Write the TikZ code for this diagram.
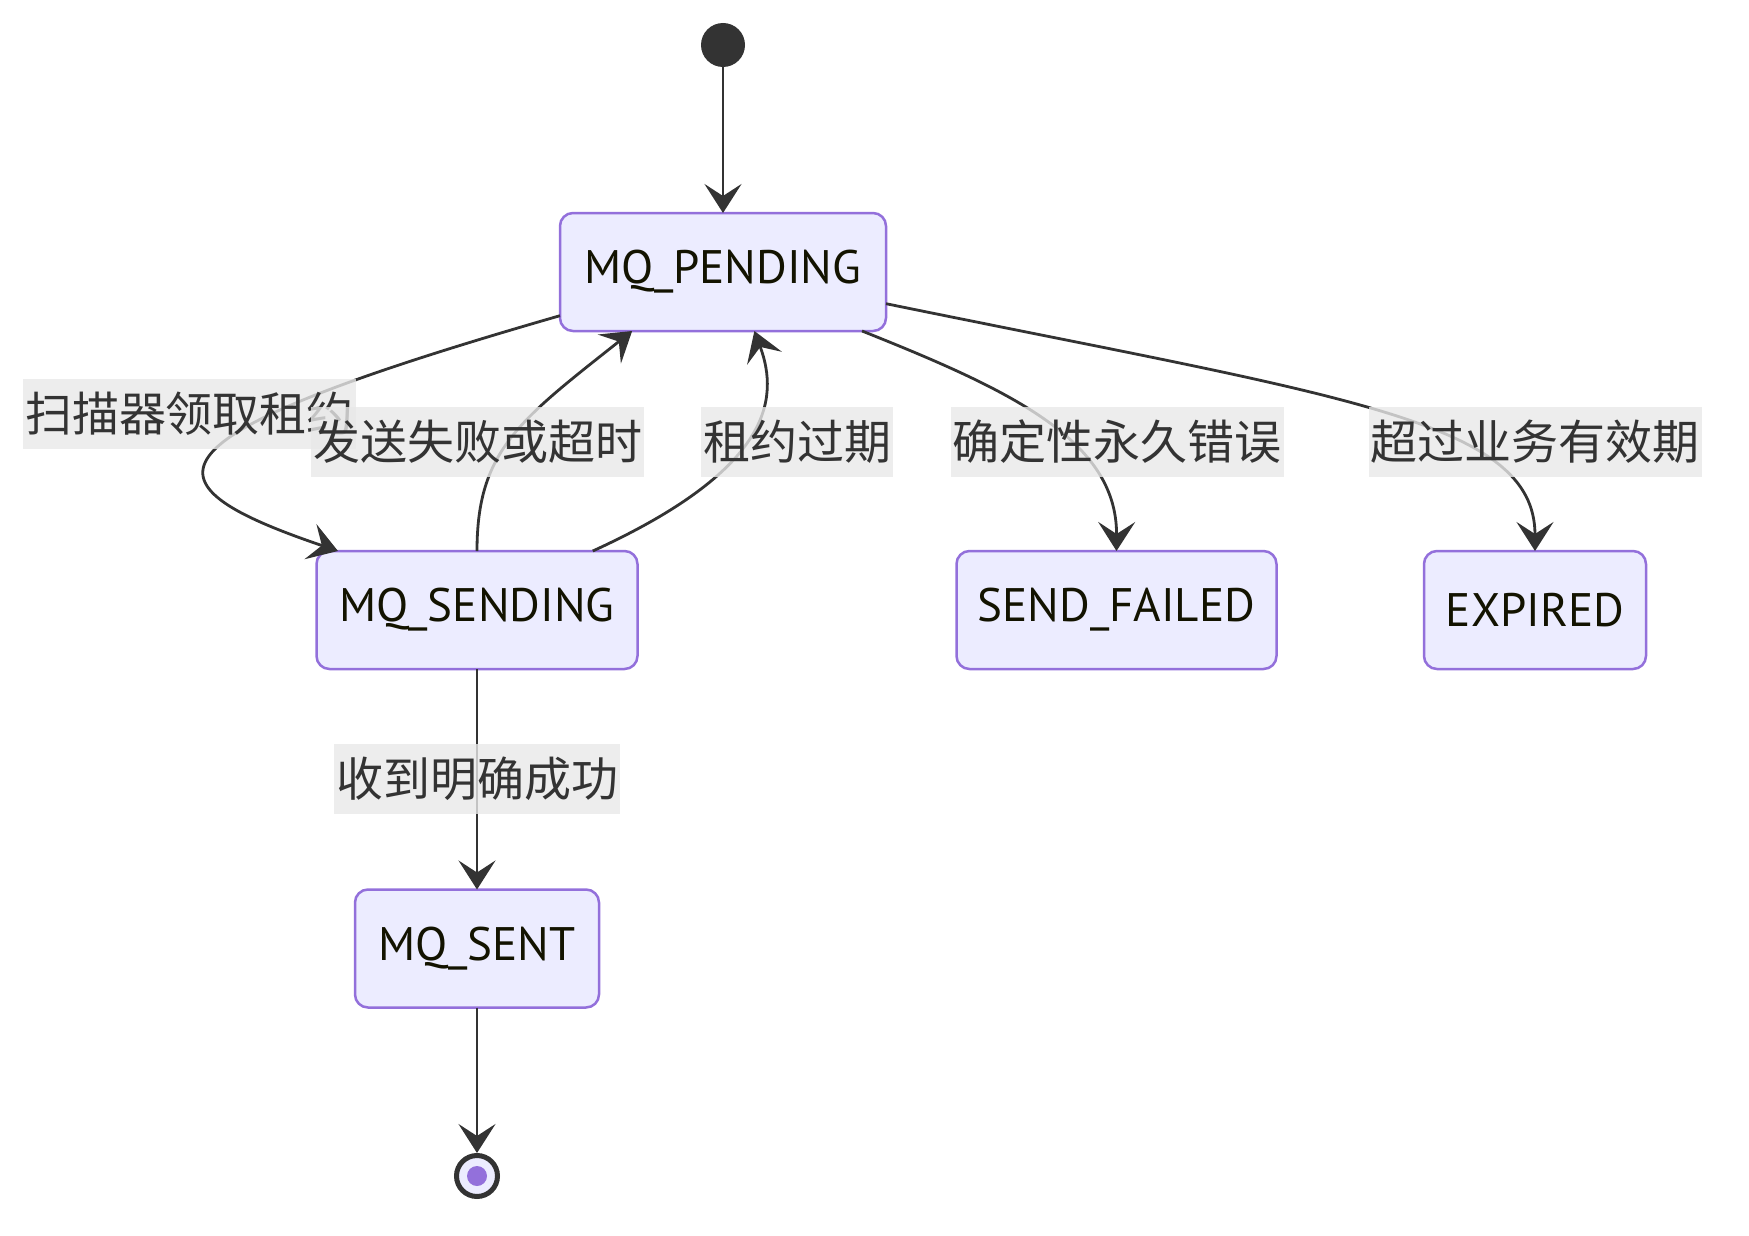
\documentclass[tikz,border=0pt]{standalone}
\usepackage{fontspec}
\setmainfont{PT Sans}
\newfontfamily\cjk{Noto Sans CJK SC}
\usetikzlibrary{arrows.meta}

\definecolor{statefill}{HTML}{ECECFF}
\definecolor{stateline}{HTML}{9370DB}
\definecolor{edgeline}{HTML}{333333}
\definecolor{labelfill}{HTML}{E8E8E8}
\definecolor{statetext}{HTML}{131300}

\begin{document}
\begin{tikzpicture}[x=1pt,y=-1pt,
  state/.style={draw=stateline,fill=statefill,line width=2.5pt,rounded corners=13pt,
    minimum height=118pt,inner sep=0pt,outer sep=0pt,text=statetext,
    font=\fontsize{47}{52}\selectfont},
  trans/.style={draw=edgeline,line width=2.8pt,-{Stealth[length=29pt,width=37pt,inset=12pt]}},
  lbl/.style={fill=labelfill,fill opacity=0.8,text opacity=1,text=edgeline,
    inner xsep=2pt,inner ysep=0pt,minimum height=70pt,
    font=\cjk\fontsize{47}{50}\selectfont}]
\useasboundingbox (0,0) rectangle (1749,1236);

% states

\node[circle,fill=edgeline,minimum size=44pt,inner sep=0pt] (start) at (723,45) {};

\node[state,minimum width=326pt] (pending) at (723,272) {MQ\_PENDING};
\node[state,minimum width=321pt] (sending) at (477,610) {MQ\_SENDING};
\node[state,minimum width=320pt] (failed) at (1116.5,610) {SEND\_FAILED};
\node[state,minimum width=222pt] (expired) at (1535,610) {EXPIRED};
\node[state,minimum width=244pt] (sent) at (477,948.5) {MQ\_SENT};

\node[circle,draw=edgeline,line width=5pt,fill=statefill,minimum size=41pt,inner sep=0pt] (stop) at (477,1176) {};
\node[circle,fill=stateline,minimum size=20pt,inner sep=0pt] (stopdot) at (stop) {};

% transitions

\draw[trans] (start) -- (pending);
\draw[trans] (pending.195) .. controls (135,438) and (135,482) .. (sending.157);
\draw[trans] (sending.north) .. controls (477,450) and (520,420) .. (pending.213.5);
\draw[trans] (sending.27) .. controls (770,470) and (780,400) .. (pending.298);
\draw[trans] (pending.-23) .. controls (1010,390) and (1117,440) .. (failed.north);
\draw[trans] (pending.-11.8) .. controls (1342,397) and (1535,420) .. (expired.north);
\draw[trans] (sending) -- (sent);
\draw[trans] (sent) -- (stop);

% transition labels

\node[lbl] (lscan) at (189.5,414) {扫描器领取租约};
\node[lbl] (lretry) at (477.5,441.5) {发送失败或超时};
\node[lbl] (llease) at (797,441.5) {租约过期};
\node[lbl] (lfatal) at (1117,441.5) {确定性永久错误};
\node[lbl] (lexpire) at (1535,441.5) {超过业务有效期};
\node[lbl] (lok) at (477,779) {收到明确成功};

\end{tikzpicture}
\end{document}
